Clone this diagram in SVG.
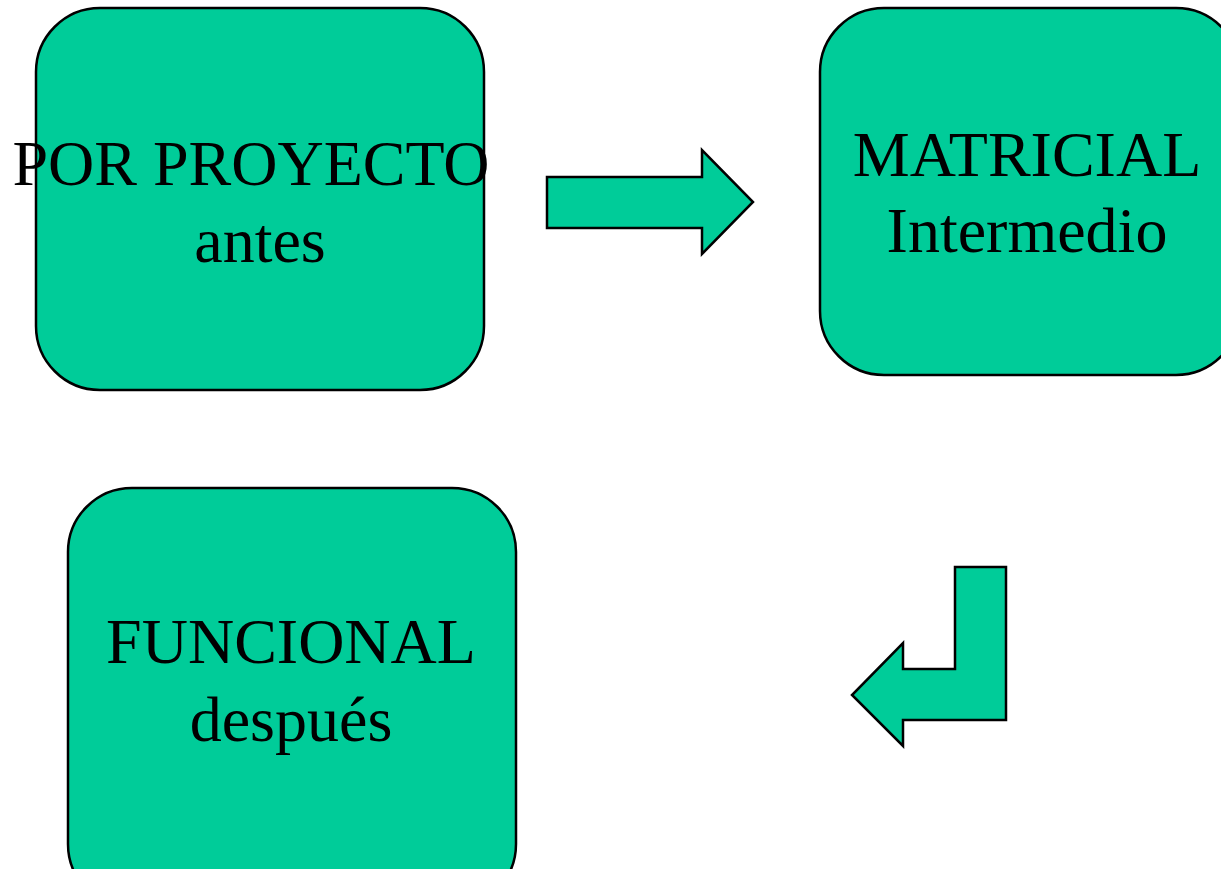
<svg xmlns="http://www.w3.org/2000/svg" width="1221" height="869" viewBox="0 0 1221 869">
<style>
.box{fill:#00CC99;stroke:#000;stroke-width:2.5}
.arr{fill:#00CC99;stroke:#000;stroke-width:2.5;stroke-linejoin:miter}
.t{font-family:"Liberation Serif","Times New Roman",serif;font-size:64px;fill:#000;text-anchor:middle}
</style>
<rect width="1221" height="869" fill="#fff"/>
<g id="node-proyecto">
<rect class="box" x="36" y="8" width="448" height="382" rx="64" ry="64"/>
<text class="t" x="251" y="185">POR PROYECTO</text>
<text class="t" x="260" y="262">antes</text>
</g>
<g id="node-matricial">
<rect class="box" x="820" y="8" width="420" height="367" rx="64" ry="64"/>
<text class="t" x="1027" y="176">MATRICIAL</text>
<text class="t" x="1027" y="252">Intermedio</text>
</g>
<g id="node-funcional">
<rect class="box" x="68" y="488" width="448" height="420" rx="64" ry="64"/>
<text class="t" x="291" y="663">FUNCIONAL</text>
<text class="t" x="291" y="741">después</text>
</g>
<g id="connectors">
<path class="arr" d="M547,177 L702,177 L702,150 L753,202 L702,254 L702,228 L547,228 Z"/>
<path class="arr" d="M955,567 L1006,567 L1006,720 L903,720 L903,746 L852,695 L903,643 L903,669 L955,669 Z"/>
</g>
</svg>
